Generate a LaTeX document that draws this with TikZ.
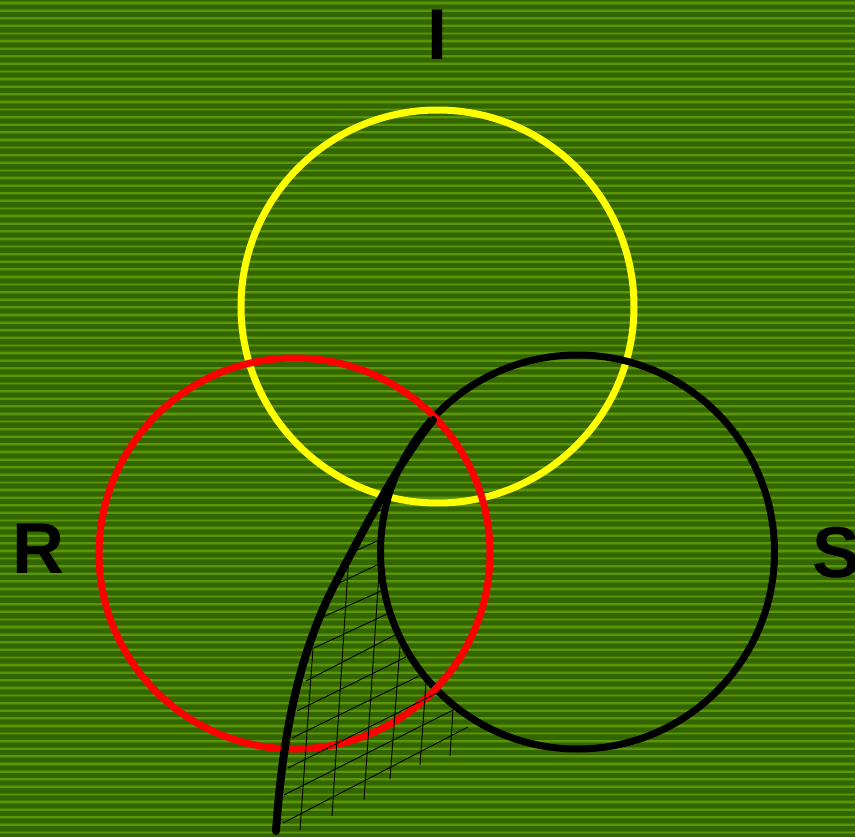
\documentclass[tikz,border=0pt]{standalone}
\usepackage{fontspec}
\setmainfont{Liberation Sans}
\definecolor{bgdark}{RGB}{51,102,0}
\definecolor{bgmid}{RGB}{68,122,0}
\definecolor{bglight}{RGB}{90,150,10}
\definecolor{ringyellow}{RGB}{255,255,0}
\definecolor{ringred}{RGB}{255,0,0}
\tikzset{
  ring/.style={line width=7pt},
  bigcurve/.style={line width=8pt, line cap=round},
  hatch/.style={line width=0.9pt, black},
  letter/.style={font=\fontsize{72}{72}\selectfont\bfseries, inner sep=0pt, text=black}
}
\begin{document}
\begin{tikzpicture}[x=1pt,y=-1pt]
\useasboundingbox (0,0) rectangle (855,837);
\fill[bgdark] (0,0) rectangle (855,837);
\foreach \i in {0,...,110} {
  \fill[bgmid] (0,{3+\i*7.61-1.6}) rectangle (855,{3+\i*7.61+1.6});
  \fill[bglight] (0,{3+\i*7.61-0.9}) rectangle (855,{3+\i*7.61+0.9});
}
% circles
\draw[ring, ringyellow] (437.5,306.5) circle (196.5);
\draw[ring, black] (577.5,552) circle (197);
\draw[ring, ringred] (294.5,553.5) circle (195.5);
% thick curve
\coordinate (cbot) at (276,831);
\coordinate (cmid) at (337,580);
\coordinate (ctop) at (433,420);
\draw[bigcurve] (cbot) .. controls (283,730) and (300,650) .. (cmid)
                       .. controls (365,527) and (400,460) .. (ctop);
% hatching: slanted lines
\draw[hatch] (366,517) -- (383,509);
\draw[hatch] (349,554) -- (377,541);
\draw[hatch] (337,584) -- (377,565);
\draw[hatch] (323,617) -- (381,591);
\draw[hatch] (314,648) -- (387,614);
\draw[hatch] (306,681) -- (395,635);
\draw[hatch] (297,711) -- (406,657);
\draw[hatch] (292,738) -- (419,676);
\draw[hatch] (288,768) -- (437,693);
\draw[hatch] (284,795) -- (453,710);
\draw[hatch] (283,823) -- (468,727);
% hatching: near-vertical lines
\draw[hatch] (384,489) -- (384,502);
\draw[hatch] (349,554) -- (332,816);
\draw[hatch] (313,648) -- (300,830);
\draw[hatch] (379,573) -- (364,800);
\draw[hatch] (400,647) -- (390,779);
\draw[hatch] (426,683) -- (420,765);
\draw[hatch] (453,710) -- (450,756);
% labels
\node[letter, anchor=base] (labI) at (437,60) {I};
\node[letter, anchor=base west] (labR) at (12,573) {R};
\node[letter, anchor=base west] (labS) at (812,577) {S};
\end{tikzpicture}
\end{document}
